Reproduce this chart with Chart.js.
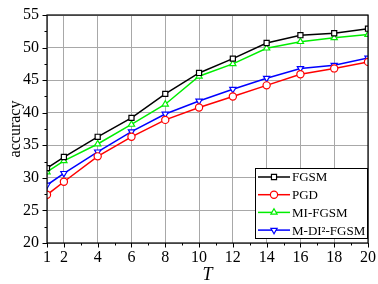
<!DOCTYPE html>
<html>
<head>
<meta charset="utf-8">
<script src="https://cdn.jsdelivr.net/npm/chart.js@4"></script>
<style>
  html, body { margin: 0; padding: 0; background: #fff; }
  #wrap { width: 378px; height: 284px; }
</style>
</head>
<body>
<div id="wrap"><canvas id="accChart" width="378" height="284"></canvas></div>
<script>
const steps = [1, 2, 4, 6, 8, 10, 12, 14, 16, 18, 20];
const xTicks = [1, 2, 4, 6, 8, 10, 12, 14, 16, 18, 20];
const yTicks = [20, 25, 30, 35, 40, 45, 50, 55];

const fgsm     = [31.5, 33.2, 36.3, 39.2, 42.9, 46.1, 48.3, 50.7, 51.9, 52.2, 52.9];
const pgd      = [27.4, 29.4, 33.3, 36.3, 38.9, 40.8, 42.5, 44.2, 45.9, 46.8, 47.8];
const miFgsm   = [30.9, 32.6, 35.2, 38.2, 41.3, 45.6, 47.5, 49.9, 50.9, 51.5, 52.0];
const mDi2Fgsm = [28.9, 30.7, 34.0, 37.1, 39.8, 41.8, 43.6, 45.3, 46.8, 47.3, 48.4];

const FONT = "'Liberation Serif', 'Times New Roman', serif";

const toPoints = (vals) => steps.map((x, i) => ({ x: x, y: vals[i] }));

const makeSet = (label, vals, color, style, rotation) => ({
  label: label,
  data: toPoints(vals),
  borderColor: color,
  backgroundColor: "#fff",
  borderWidth: 1.5,
  pointStyle: style,
  pointRotation: rotation || 0,
  pointRadius: 3.6,
  pointBorderWidth: 1.2,
  pointBackgroundColor: "#fff",
  pointBorderColor: color,
  tension: 0
});

/* frame, outward ticks and legend */
const framePlugin = {
  id: "frame",
  afterDatasetsDraw(chart) {
    const ctx = chart.ctx;
    const a = chart.chartArea;
    const xs = chart.scales.x;
    const ys = chart.scales.y;

    ctx.save();
    ctx.strokeStyle = "#000";
    ctx.lineWidth = 1;

    ctx.beginPath();
    for (let v = 3; v < 20; v += 2) {
      const px = Math.round(xs.getPixelForValue(v)) + 0.5;
      ctx.moveTo(px, a.bottom); ctx.lineTo(px, a.bottom + 2.5);
    }
    for (let v = 22.5; v < 55; v += 5) {
      const py = Math.round(ys.getPixelForValue(v)) + 0.5;
      ctx.moveTo(a.left, py); ctx.lineTo(a.left - 2.5, py);
    }
    xTicks.forEach(v => {
      const px = Math.round(xs.getPixelForValue(v)) + 0.5;
      ctx.moveTo(px, a.bottom); ctx.lineTo(px, a.bottom + 4.5);
    });
    yTicks.forEach(v => {
      const py = Math.round(ys.getPixelForValue(v)) + 0.5;
      ctx.moveTo(a.left, py); ctx.lineTo(a.left - 4.5, py);
    });
    ctx.stroke();

    ctx.lineWidth = 1.2;
    ctx.strokeRect(a.left, a.top, a.right - a.left, a.bottom - a.top);

    // legend box
    const bx = a.right - 113, by = a.bottom - 75, bw = 112, bh = 70;
    ctx.fillStyle = "#fff";
    ctx.fillRect(bx, by, bw, bh);
    ctx.lineWidth = 1;
    ctx.strokeRect(bx + 0.5, by + 0.5, bw, bh);

    ctx.font = "13px " + FONT;
    ctx.textBaseline = "middle";
    chart.data.datasets.forEach((ds, i) => {
      const cy = by + 9 + i * 17.7;
      ctx.strokeStyle = ds.borderColor;
      ctx.lineWidth = 1.5;
      ctx.beginPath();
      ctx.moveTo(bx + 3, cy);
      ctx.lineTo(bx + 35, cy);
      ctx.stroke();
      ctx.lineWidth = 1.2;
      ctx.fillStyle = "#fff";
      Chart.helpers.drawPoint(ctx, {
        pointStyle: ds.pointStyle,
        rotation: ds.pointRotation,
        radius: 3.6,
        borderWidth: 1.2
      }, bx + 19, cy);
      ctx.fillStyle = "#000";
      ctx.fillText(ds.label, bx + 37, cy + 1);
    });
    ctx.restore();
  }
};

new Chart(document.getElementById("accChart"), {
  type: "line",
  data: {
    datasets: [
      makeSet("FGSM", fgsm, "#000000", "rect"),
      makeSet("PGD", pgd, "#ff0000", "circle"),
      makeSet("MI-FGSM", miFgsm, "#00ee00", "triangle"),
      makeSet("M-DI\u00b2-FGSM", mDi2Fgsm, "#0000ff", "triangle", 180)
    ]
  },
  options: {
    responsive: false,
    animation: false,
    layout: { padding: { top: 15, right: 10, left: 0, bottom: 0 } },
    plugins: {
      legend: { display: false },
      tooltip: { enabled: false }
    },
    scales: {
      x: {
        type: "linear",
        min: 1,
        max: 20,
        afterBuildTicks: (scale) => {
          scale.ticks = xTicks.map(v => ({ value: v }));
        },
        afterFit: (scale) => {
          scale.height = 41;
          scale.paddingLeft = 0;
          scale.paddingRight = 0;
        },
        grid: { color: "#a8a8a8", lineWidth: 1, drawTicks: false },
        border: { display: false },
        ticks: {
          color: "#000",
          padding: 5,
          maxRotation: 0,
          autoSkip: false,
          font: { family: FONT, size: 16 }
        },
        title: {
          display: true,
          text: "T",
          color: "#000",
          padding: { top: 0, bottom: 0 },
          font: { family: FONT, size: 18, style: "italic", lineHeight: 1 }
        }
      },
      y: {
        min: 20,
        max: 55,
        afterBuildTicks: (scale) => {
          scale.ticks = yTicks.map(v => ({ value: v }));
        },
        afterFit: (scale) => {
          scale.width = 47;
          scale.paddingTop = 0;
          scale.paddingBottom = 0;
        },
        grid: { color: "#a8a8a8", lineWidth: 1, drawTicks: false },
        border: { display: false },
        ticks: {
          color: "#000",
          padding: 8,
          font: { family: FONT, size: 16 }
        },
        title: {
          display: true,
          text: "accuracy",
          color: "#000",
          padding: { top: 8, bottom: 0 },
          font: { family: FONT, size: 16, lineHeight: 1 }
        }
      }
    }
  },
  plugins: [framePlugin]
});
</script>
</body>
</html>
